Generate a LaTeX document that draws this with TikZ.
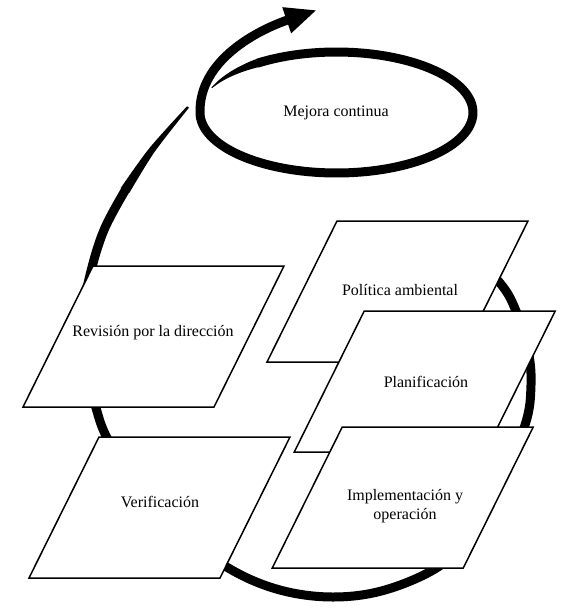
\documentclass[tikz,border=0pt]{standalone}
\usepackage{fontspec}
\setmainfont{Liberation Serif}
\usetikzlibrary{arrows.meta}
\begin{document}
\begin{tikzpicture}[x=1pt,y=-1pt,
  loopline/.style={line width=9pt, line cap=butt, line join=round},
  boxline/.style={draw=black, fill=white, line width=1.5pt, line join=miter},
  lbl/.style={font=\fontsize{16}{19}\selectfont, align=center, inner sep=0pt},
  slantbox/.pic={\path[boxline] (-60.5,-70.5) -- (130.5,-70.5) -- (60.5,70.5) -- (-130.5,70.5) -- cycle;}]
\fill[white] (0,0) rectangle (562,608);
\useasboundingbox (0,0) rectangle (562,608);
% big cycle arc
\draw[loopline] plot[smooth, tension=0.6] coordinates {(462,245) (500,283) (516,311) (528,350) (531,385) (525,425) (497,490) (470,535) (438,567) (385,590) (333,597) (280,590) (230,569) (175,530) (135,487) (107,438) (96,408) (85,365) (82,320) (90,275) (104,230) (126,189)};
% tapered end of the big arc
\fill plot[smooth] coordinates {(120.6,188.2) (149.45,148.06) (187.1,106.2)}
  -- plot[smooth] coordinates {(188.9,107.8) (154.55,151.94) (129.4,192.8)} -- cycle;
% continual improvement loop with arrow: tapered start
\fill plot[variable=\s, domain=0:31, samples=32]
    ({336.5+(136.5+4.5*(0.1+0.9*\s/31))*cos(156-\s)}, {112.5-(60.5+4.5*(0.1+0.9*\s/31))*sin(156-\s)})
  -- plot[variable=\s, domain=0:31, samples=32]
    ({336.5+(136.5-4.5*(0.1+0.9*(31-\s)/31))*cos(125+\s)}, {112.5-(60.5-4.5*(0.1+0.9*(31-\s)/31))*sin(125+\s)})
  -- cycle;
\draw[loopline, -{Triangle[length=32pt,width=25pt]}]
  plot[variable=\t, domain=30.5:336, samples=110] ({336.5+136.5*cos(156-\t)}, {112.5-60.5*sin(156-\t)})
  .. controls (199,60) and (258,30) .. (317,10);
% boxes
\pic at (153.5,336.5) {slantbox};
\pic at (159.5,507.5) {slantbox};
\pic at (397.5,291.5) {slantbox};
\pic at (424.75,381.5) {slantbox};
\pic at (402.75,497.5) {slantbox};
% labels
\node[lbl] (mejora) at (336,113) {Mejora continua};
\node[lbl] (rev) at (153,333) {Revisión por la dirección};
\node[lbl] (verif) at (160,502) {Verificación};
\node[lbl] (pol) at (400,290) {Política ambiental};
\node[lbl] (plan) at (426,382) {Planificación};
\node[lbl] (impl) at (405,506) {Implementación y\\operación};
\end{tikzpicture}
\end{document}
